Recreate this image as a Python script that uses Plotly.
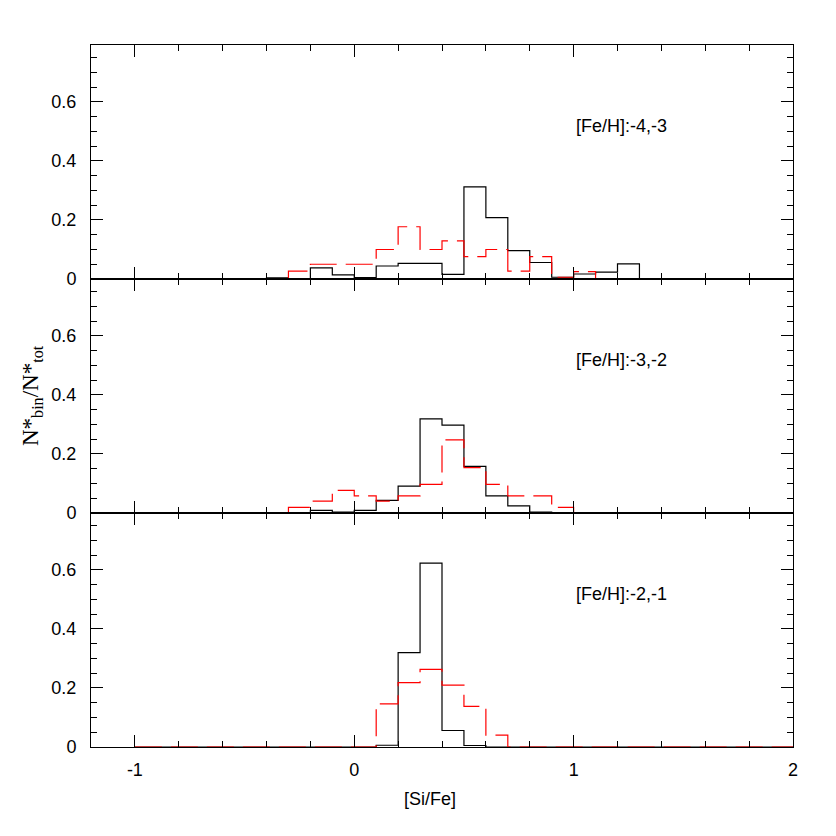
import numpy as np
import plotly.graph_objects as go
from plotly.subplots import make_subplots

# [Si/Fe] histograms, bin width 0.1, one start edge per series
bin_width = 0.1

panel_labels = ["[Fe/H]:-4,-3", "[Fe/H]:-3,-2", "[Fe/H]:-2,-1"]

# panel 1: [Fe/H] -4,-3
black1_start = -0.4
black1 = [0.004, 0.0, 0.038, 0.014, 0.005, 0.044, 0.053, 0.053, 0.016,
          0.312, 0.208, 0.096, 0.056, 0.006, 0.017, 0.023, 0.051]
red1_start = -0.3
red1 = [0.027, 0.05, 0.05, 0.05, 0.10, 0.177, 0.10, 0.129, 0.076, 0.10,
        0.027, 0.076, 0.006, 0.025]

# panel 2: [Fe/H] -3,-2
black2_start = -0.2
black2 = [0.009, 0.003, 0.009, 0.043, 0.091, 0.319, 0.298, 0.158, 0.058,
          0.024, 0.003]
red2_start = -0.3
red2 = [0.019, 0.04, 0.077, 0.058, 0.04, 0.058, 0.097, 0.248, 0.154, 0.097,
        0.058, 0.058, 0.019]

# panel 3: [Fe/H] -2,-1
black3_start = -1.0
black3 = [0, 0, 0, 0, 0, 0, 0, 0, 0, 0, 0,
          0.006, 0.32, 0.623, 0.056, 0.005,
          0, 0, 0, 0, 0, 0, 0, 0, 0, 0, 0, 0, 0, 0]
red3_start = -1.0
red3 = [0, 0, 0, 0, 0, 0, 0, 0, 0, 0, 0,
        0.146, 0.218, 0.263, 0.21, 0.138, 0.04,
        0, 0, 0, 0, 0, 0, 0, 0, 0, 0, 0, 0, 0]

x_ticks = [-1, 0, 1, 2]
x_ticktext = ["-1", "0", "1", "2"]
y_ticks = [0, 0.2, 0.4, 0.6]
y_ticktext = ["0", "0.2", "0.4", "0.6"]


def step_xy(start, vals):
    # outline of a histogram: up from zero at the first edge, down at the last
    edges = np.round(start + bin_width * np.arange(len(vals) + 1), 3)
    xs = [edges[0]] + list(edges)
    ys = [0] + list(vals) + [0]
    return xs, ys


series = [
    (black1_start, black1, red1_start, red1),
    (black2_start, black2, red2_start, red2),
    (black3_start, black3, red3_start, red3),
]

fig = make_subplots(rows=3, cols=1, shared_xaxes=True, vertical_spacing=0)

for i, (bs, bv, rs, rv) in enumerate(series):
    row = i + 1
    x, y = step_xy(bs, bv)
    fig.add_trace(go.Scatter(x=x, y=y, mode="lines", line_shape="hv",
                             line=dict(color="black", width=1.2),
                             showlegend=False), row=row, col=1)
    x, y = step_xy(rs, rv)
    fig.add_trace(go.Scatter(x=x, y=y, mode="lines", line_shape="hv",
                             line=dict(color="red", width=1.2, dash="27px,9px"),
                             showlegend=False), row=row, col=1)
    fig.add_annotation(x=1.0, y=0.52, xref=f"x{row if row > 1 else ''}",
                       yref=f"y{row if row > 1 else ''}", text=panel_labels[i],
                       showarrow=False, xanchor="left", yanchor="middle",
                       font=dict(family="Liberation Sans", size=18, color="black"))

axis_font = dict(family="Liberation Sans", size=18, color="black")

fig.update_xaxes(range=[-1.2, 2.0], tickmode="array", tickvals=x_ticks,
                 ticktext=x_ticktext,
                 ticks="inside", ticklen=12, tickwidth=1, tickcolor="black",
                 minor=dict(ticks="inside", dtick=0.2, tick0=0, ticklen=6,
                            tickcolor="black", tickwidth=1),
                 showline=True, linecolor="black", linewidth=1, mirror="allticks",
                 showgrid=False, zeroline=False, tickfont=axis_font,
                 ticklabelstandoff=6)
fig.update_xaxes(showticklabels=False, row=1, col=1)
fig.update_xaxes(showticklabels=False, row=2, col=1)

fig.update_yaxes(range=[0, 0.793], tickmode="array", tickvals=y_ticks,
                 ticktext=y_ticktext,
                 ticks="inside", ticklen=12, tickwidth=1, tickcolor="black",
                 minor=dict(ticks="inside", dtick=0.05, tick0=0, ticklen=6,
                            tickcolor="black", tickwidth=1),
                 showline=True, linecolor="black", linewidth=1, mirror="allticks",
                 showgrid=False, zeroline=False, tickfont=axis_font,
                 ticklabelstandoff=10)

fig.add_annotation(x=0.483, y=-0.074, xref="paper", yref="paper", text="[Si/Fe]",
                   showarrow=False, xanchor="center", yanchor="middle",
                   font=axis_font)
fig.add_annotation(x=-0.084, y=0.5, xref="paper", yref="paper",
                   text="N*<sub>bin</sub>/N*<sub>tot</sub>", textangle=-90,
                   showarrow=False, xanchor="center", yanchor="middle",
                   font=dict(family="Liberation Serif", size=23, color="black"))

# the page body adds an 8px offset, so the margins are shifted to compensate
fig.update_layout(width=836, height=836, plot_bgcolor="white", paper_bgcolor="white",
                  margin=dict(l=83, r=51, t=37, b=97))

fig.write_html("out.html")
